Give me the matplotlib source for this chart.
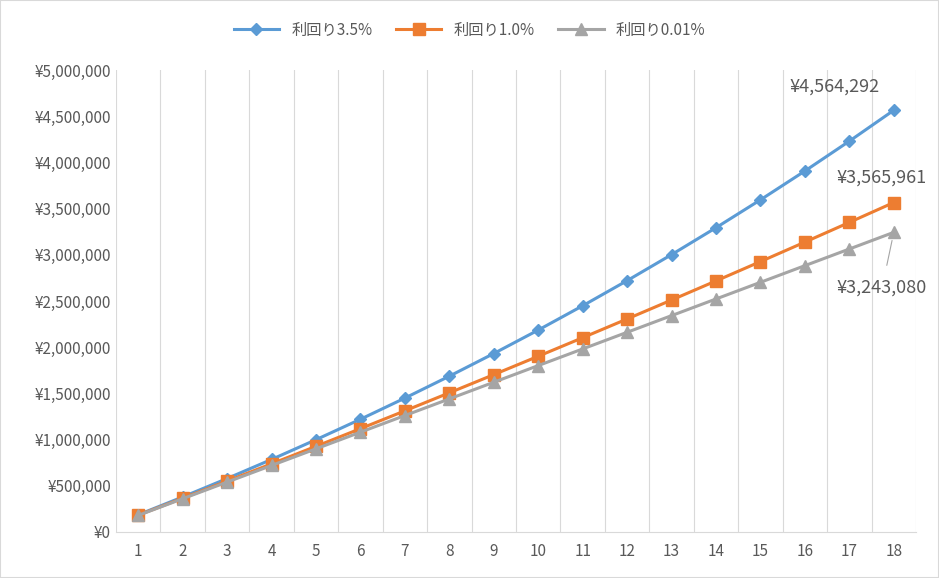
import matplotlib
matplotlib.use("Agg")
import matplotlib.pyplot as plt
import numpy as np

plt.rcParams["font.family"] = ["Noto Sans CJK JP", "DejaVu Sans"]

years = list(range(1, 19))
r35 = [186300, 379121, 578690, 785244, 999028, 1220294, 1449304, 1686330, 1931651,
       2185559, 2448354, 2720346, 3001858, 3293223, 3594786, 3906904, 4229946, 4564292]
r10 = [181800, 365418, 550872, 738181, 927363, 1118437, 1311421, 1506335, 1703199,
       1902031, 2102851, 2305680, 2510537, 2717442, 2926417, 3137481, 3350656, 3565961]
r001 = [180018, 360054, 540108, 720180, 900270, 1080378, 1260504, 1440648, 1620810,
        1800990, 1981188, 2161404, 2341638, 2521890, 2702160, 2882448, 3062754, 3243080]
labels = ["利回り3.5%", "利回り1.0%", "利回り0.01%"]
yticks = list(range(0, 5000001, 500000))

fig = plt.figure(figsize=(9.39, 5.78), dpi=100)
ax = fig.add_axes([116/939, 46/578, 800/939, 462/578])
tc = "#595959"
ax.plot(years, r35, color="#5B9BD5", lw=2.2, marker="D", ms=6, label=labels[0])
ax.plot(years, r10, color="#ED7D31", lw=2.2, marker="s", ms=8, label=labels[1])
ax.plot(years, r001, color="#A5A5A5", lw=2.2, marker="^", ms=8, label=labels[2])
ax.set_xlim(0.5, 18.5)
ax.set_ylim(0, 5000000)
ax.set_xticks(years)
ax.set_yticks(yticks)
ax.set_yticklabels([f"¥{v:,}" for v in yticks])
ax.set_xticks(np.arange(0.5, 19, 1), minor=True)
ax.grid(which="minor", axis="x", color="#D9D9D9", lw=0.8)
ax.tick_params(which="both", length=0, colors=tc, labelsize=11)
ax.tick_params(axis="x", pad=8)
for s in ["top", "right", "left"]:
    ax.spines[s].set_visible(False)
ax.spines["bottom"].set_color("#D9D9D9")

def fy(y):
    return 1 - y / 578

ax.annotate(f"¥{r35[-1]:,}", (18, r35[-1]), xytext=(835/939, fy(87)), textcoords="figure fraction",
            ha="center", va="center", color=tc, fontsize=13)
ax.annotate(f"¥{r10[-1]:,}", (18, r10[-1]), xytext=(882/939, fy(178)), textcoords="figure fraction",
            ha="center", va="center", color=tc, fontsize=13)
ax.annotate(f"¥{r001[-1]:,}", (18, r001[-1]), xytext=(882/939, fy(288)), textcoords="figure fraction",
            ha="center", va="center", color=tc, fontsize=13,
            arrowprops=dict(arrowstyle="-", color="#A5A5A5", lw=0.8, shrinkA=8, shrinkB=6))
fig.legend(loc="center", bbox_to_anchor=(0.5, fy(30)), ncol=3, frameon=False,
           fontsize=11, labelcolor=tc, handlelength=3, columnspacing=1.5)
fig.patches.append(plt.Rectangle((0, 0), 1, 1, transform=fig.transFigure, fill=False,
                                 edgecolor="#D9D9D9", lw=1.5))
fig.savefig("out.png", dpi=100)
